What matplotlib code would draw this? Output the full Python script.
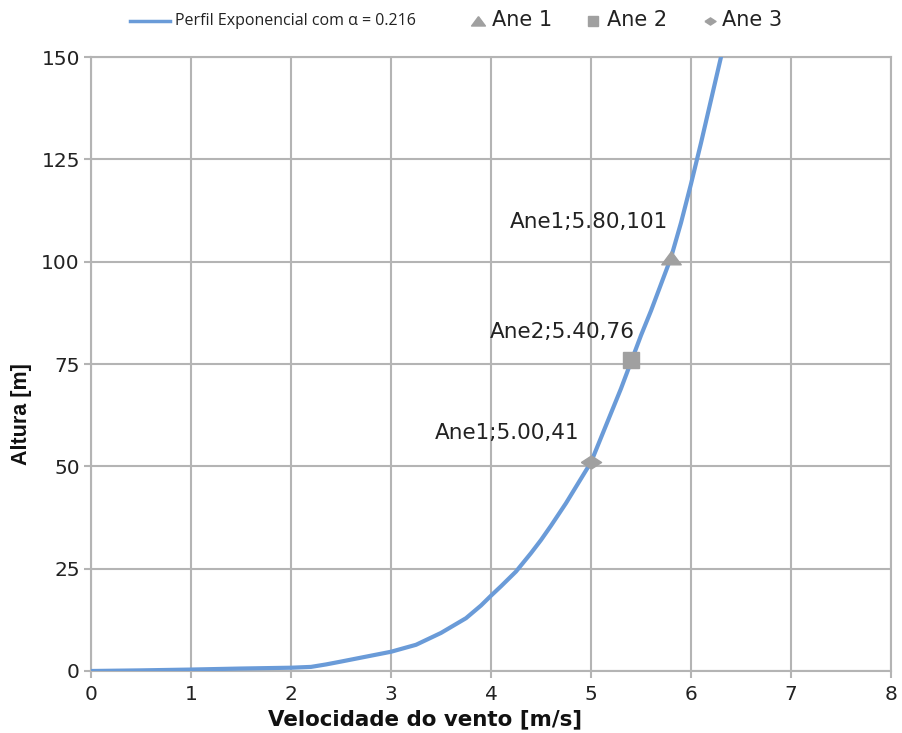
import matplotlib
matplotlib.use("Agg")
import matplotlib.pyplot as plt
from matplotlib.lines import Line2D

# Wind profile curve
vel = [0, 0.5, 1, 1.5, 2, 2.2, 2.35, 2.5, 2.75, 3, 3.25, 3.5, 3.75, 3.9, 4,
       4.1, 4.25, 4.4, 4.5, 4.6, 4.75, 4.9, 5, 5.1, 5.2, 5.3, 5.4, 5.5, 5.6,
       5.7, 5.8, 5.9, 6.0, 6.1, 6.2, 6.3]
alt = [0, 0.15, 0.35, 0.6, 0.8, 1.0, 1.6, 2.3, 3.5, 4.7, 6.4, 9.3, 12.9, 16.0,
       18.4, 20.7, 24.3, 28.8, 32, 35.5, 41, 47, 51, 57, 63, 69, 75.5, 82, 88,
       94.5, 101, 109.5, 119, 129, 139.5, 150]

# Anemometers
ane_names = ["Ane 1", "Ane 2", "Ane 3"]
ane_v = [5.80, 5.40, 5.00]
ane_h = [101, 76, 51]
ane_labels = ["Ane1;5.80,101", "Ane2;5.40,76", "Ane1;5.00,41"]

curve_label = "Perfil Exponencial com α = 0.216"
xticks = [0, 1, 2, 3, 4, 5, 6, 7, 8]
yticks = [0, 25, 50, 75, 100, 125, 150]

plt.rcParams['font.family'] = ['DejaVu Sans']

tri = [(0, 0.7), (-1, -0.65), (1, -0.65), (0, 0.7)]
dia = [(-1, 0), (0, 0.65), (1, 0), (0, -0.65), (-1, 0)]
ane_markers = [tri, 's', dia]
ane_sizes = [14, 12, 14.5]
leg_sizes = [10, 7.5, 8]

fig = plt.figure(figsize=(9.03, 7.33), dpi=100)
ax = fig.add_axes([0.1008, 0.0846, 0.8859, 0.8376])

grid_c = '#b4b4b4'
line_c = '#6a9bd8'
mark_c = '#a0a0a0'
txt_c = '#222222'

ax.plot(vel, alt, color=line_c, lw=3, solid_capstyle='round',
        solid_joinstyle='round', zorder=3)

offsets = [(-3, 36), (4, 28), (-12, 29)]
for v, h, m, s, lab, off in zip(ane_v, ane_h, ane_markers, ane_sizes, ane_labels, offsets):
    ax.plot([v], [h], marker=m, color=mark_c, ms=s, ls='none', zorder=4)
    ax.annotate(lab, (v, h), xytext=off, textcoords='offset pixels',
                ha='right', va='center', fontsize=15.5, color=txt_c)

ax.set_xlim(0, 8)
ax.set_ylim(0, 150)
ax.set_xticks(xticks)
ax.set_yticks(yticks)
ax.grid(True, color=grid_c, lw=1.5)
ax.set_axisbelow(True)
for sp in ax.spines.values():
    sp.set_color(grid_c)
    sp.set_linewidth(1.5)
ax.tick_params(axis='both', colors=grid_c, length=5, width=1.5,
               labelcolor=txt_c, labelsize=14.5)
ax.tick_params(axis='y', pad=3)
ax.tick_params(axis='x', pad=5)

ax.set_xlabel("Velocidade do vento [m/s]", fontsize=15.4, fontweight='bold',
              color='#111111')
ax.xaxis.set_label_coords(0.4175, -0.0785)
ax.xaxis.label.set_va('center')
ax.set_ylabel("Altura [m]", fontsize=15.5, fontweight='bold', color='#111111',
              family=['Liberation Sans Narrow', 'Liberation Sans'])
ax.yaxis.set_label_coords(-0.0863, 0.418)
ax.yaxis.label.set_va('center')

# legend row at the top
ly = 1 - 21 / 733
fig.add_artist(Line2D([130 / 903, 170 / 903], [ly, ly], color=line_c, lw=2.5,
                      transform=fig.transFigure))
fig.text(175 / 903, ly, curve_label, fontsize=11.5, color=txt_c, va='center',
         ha='left', family=['Open Sans', 'DejaVu Sans'])
mk_x = [478, 593, 710]
tx_x = [492, 607, 722]
for name, m, s, mx, tx in zip(ane_names, ane_markers, leg_sizes, mk_x, tx_x):
    fig.add_artist(Line2D([mx / 903], [ly], marker=m, color=mark_c, ms=s,
                          ls='none', transform=fig.transFigure))
    fig.text(tx / 903, 1 - 20 / 733, name, fontsize=15, color=txt_c,
             va='center', ha='left')

fig.savefig("out.png", dpi=100)
